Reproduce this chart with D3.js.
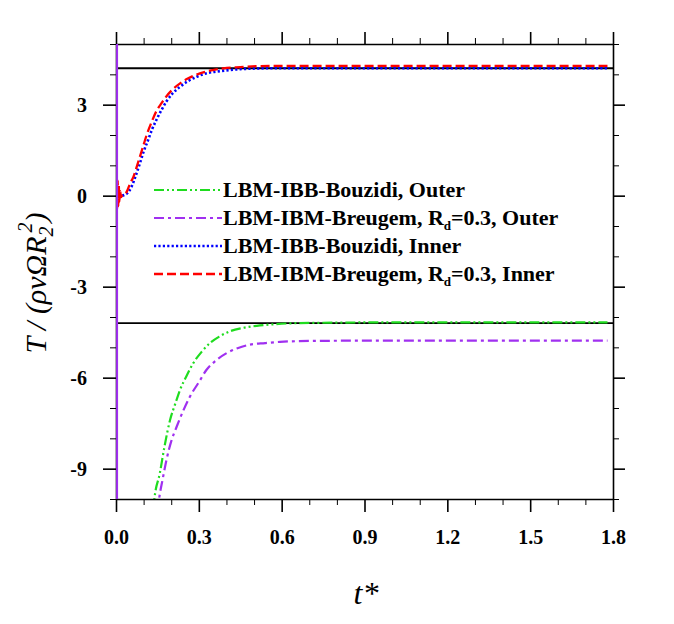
<!DOCTYPE html>
<html>
<head>
<meta charset="utf-8">
<script src="https://cdn.jsdelivr.net/npm/d3@7"></script>
<style>
  html, body { margin: 0; padding: 0; background: #fff; }
  svg { display: block; }
</style>
</head>
<body>
<svg id="chart" width="674" height="624"></svg>
<script>
// ---- data ----
const xTicks = [0.0, 0.3, 0.6, 0.9, 1.2, 1.5, 1.8];
const xTickLabels = ["0.0", "0.3", "0.6", "0.9", "1.2", "1.5", "1.8"];
const yTicks = [3, 0, -3, -6, -9];
const yTickLabels = ["3", "0", "-3", "-6", "-9"];
const refLevels = [4.2, -4.2];

const tInnerBouzidi = [0, 0.003, 0.01, 0.02, 0.03, 0.045, 0.057, 0.07, 0.087, 0.1, 0.117, 0.13, 0.147, 0.165, 0.183, 0.205, 0.232, 0.26, 0.292, 0.33, 0.364, 0.4, 0.449, 0.5, 0.55, 0.65, 0.8, 1.0, 1.3, 1.6, 1.78];
const vInnerBouzidi = [0.05, 0.1, 0.0, 0.0, 0.02, 0.12, 0.31, 0.62, 1.08, 1.45, 1.85, 2.17, 2.51, 2.83, 3.11, 3.37, 3.59, 3.77, 3.92, 4.04, 4.09, 4.13, 4.17, 4.19, 4.2, 4.2, 4.2, 4.2, 4.2, 4.2, 4.2];

const tInnerBreugem = [0, 0.002, 0.004, 0.006, 0.008, 0.010, 0.012, 0.015, 0.018, 0.022, 0.03, 0.04, 0.05, 0.063, 0.075, 0.087, 0.1, 0.111, 0.13, 0.147, 0.165, 0.183, 0.205, 0.232, 0.26, 0.304, 0.34, 0.389, 0.45, 0.51, 0.6, 0.8, 1.0, 1.3, 1.6, 1.78];
const vInnerBreugem = [0, 0.65, -0.45, 0.5, -0.35, 0.35, -0.2, 0.15, -0.05, 0.0, 0.03, 0.15, 0.38, 0.62, 0.95, 1.3, 1.68, 2.0, 2.45, 2.8, 3.05, 3.28, 3.5, 3.7, 3.86, 4.03, 4.12, 4.2, 4.24, 4.27, 4.28, 4.28, 4.28, 4.28, 4.28, 4.28];

const tOuterBouzidi = [0, 0.0005, 0.05, 0.1, 0.125, 0.139, 0.159, 0.175, 0.196, 0.215, 0.232, 0.255, 0.28, 0.31, 0.34, 0.375, 0.413, 0.46, 0.51, 0.57, 0.63, 0.75, 0.9, 1.2, 1.5, 1.78];
const vOuterBouzidi = [-40, -40, -25, -14, -11.5, -10, -9.14, -8.3, -7.39, -6.85, -6.4, -5.95, -5.52, -5.15, -4.86, -4.64, -4.47, -4.36, -4.29, -4.24, -4.21, -4.19, -4.18, -4.18, -4.18, -4.18];

const tOuterBreugem = [0, 0.0005, 0.05, 0.1, 0.14, 0.156, 0.17, 0.183, 0.2, 0.22, 0.243, 0.268, 0.3, 0.328, 0.36, 0.401, 0.44, 0.485, 0.54, 0.594, 0.7, 0.9, 1.2, 1.5, 1.78];
const vOuterBreugem = [60, -60, -30, -16, -11.3, -10, -9.3, -8.7, -8.1, -7.61, -7.1, -6.62, -6.15, -5.74, -5.45, -5.19, -5.03, -4.91, -4.86, -4.82, -4.79, -4.78, -4.78, -4.78, -4.78];

const seriesColors = ["#1fdc1f", "#a030f0", "#0000ff", "#ff0000"];
const seriesDash = ["10,3,2,3,2,3", "10,4,3,4", "2.2,2.2", "9,4"];
const seriesWidth = [2.2, 2.2, 2.6, 2.3];
const legendLabels = [
  ["LBM-IBB-Bouzidi, Outer"],
  ["LBM-IBM-Breugem, R", "d", "=0.3, Outer"],
  ["LBM-IBB-Bouzidi, Inner"],
  ["LBM-IBM-Breugem, R", "d", "=0.3, Inner"]
];

// ---- layout ----
const svg = d3.select("#chart");
const L = 116, R = 613, T = 44, B = 499;
const x = d3.scaleLinear().domain([0, 1.8]).range([L, R]);
const y = d3.scaleLinear().domain([-10, 5]).range([B, T]);

const serif = '"Liberation Serif"';

svg.append("defs").append("clipPath").attr("id", "clip")
  .append("rect").attr("x", L).attr("y", T).attr("width", R - L).attr("height", B - T);

// reference lines
svg.append("g").selectAll("line").data(refLevels).join("line")
  .attr("x1", L).attr("x2", R)
  .attr("y1", d => y(d)).attr("y2", d => y(d))
  .attr("stroke", "#000").attr("stroke-width", 1.8);

// curves
const zipS = (ts, vs) => ts.map((t, i) => [t, vs[i]]);
const seriesData = [
  zipS(tOuterBouzidi, vOuterBouzidi),
  zipS(tOuterBreugem, vOuterBreugem),
  zipS(tInnerBouzidi, vInnerBouzidi),
  zipS(tInnerBreugem, vInnerBreugem)
];
const line = d3.line().x(d => x(d[0])).y(d => y(d[1])).curve(d3.curveMonotoneX);
const gCurves = svg.append("g").attr("clip-path", "url(#clip)");
[2, 3, 0, 1].forEach(i => {
  gCurves.append("path").datum(seriesData[i])
    .attr("d", line)
    .attr("fill", "none")
    .attr("stroke", seriesColors[i])
    .attr("stroke-width", seriesWidth[i])
    .attr("stroke-dasharray", seriesDash[i]);
});

// axes with outward ticks
function styleAxis(g) {
  g.select(".domain").attr("stroke", "#000").attr("stroke-width", 1.6);
  g.selectAll(".tick line").attr("stroke", "#000");
}
const xMinor = d3.range(0, 1.8001, 0.1).map(v => +v.toFixed(2)).filter(v => !xTicks.some(t => Math.abs(t - v) < 1e-6));
const yMinor = d3.range(-10, 5.001, 1).filter(v => !yTicks.includes(v));

function fontTicks(g) {
  g.attr("font-family", null);
  g.selectAll(".tick text")
    .style("font-family", serif).attr("font-weight", "bold").attr("font-size", 20).attr("fill", "#000");
}

// bottom
const gb = svg.append("g").attr("transform", `translate(0,${B})`);
gb.call(d3.axisBottom(x).tickValues(xTicks).tickSize(13).tickSizeOuter(0).tickFormat((d, i) => xTickLabels[i]));
styleAxis(gb);
gb.selectAll(".tick line").attr("stroke-width", 1.6);
fontTicks(gb);
gb.selectAll(".tick text").attr("y", 31).attr("dy", "0.71em");
const gbm = svg.append("g").attr("transform", `translate(0,${B})`);
gbm.call(d3.axisBottom(x).tickValues(xMinor).tickSize(6).tickSizeOuter(0).tickFormat(""));
gbm.select(".domain").remove();
gbm.selectAll(".tick line").attr("stroke", "#000").attr("stroke-width", 1);

// top
const gt = svg.append("g").attr("transform", `translate(0,${T})`);
gt.call(d3.axisTop(x).tickValues(xTicks).tickSize(12).tickSizeOuter(0).tickFormat(""));
styleAxis(gt);
gt.selectAll(".tick line").attr("stroke-width", 1.6);
const gtm = svg.append("g").attr("transform", `translate(0,${T})`);
gtm.call(d3.axisTop(x).tickValues(xMinor).tickSize(6).tickSizeOuter(0).tickFormat(""));
gtm.select(".domain").remove();
gtm.selectAll(".tick line").attr("stroke", "#000").attr("stroke-width", 1);

// left
const gl = svg.append("g").attr("transform", `translate(${L},0)`);
gl.call(d3.axisLeft(y).tickValues(yTicks).tickSize(13).tickSizeOuter(0).tickFormat((d, i) => yTickLabels[i]));
styleAxis(gl);
gl.selectAll(".tick line").attr("stroke-width", 1.6);
fontTicks(gl);
gl.selectAll(".tick text").attr("x", -29);
const glm = svg.append("g").attr("transform", `translate(${L},0)`);
glm.call(d3.axisLeft(y).tickValues(yMinor).tickSize(6).tickSizeOuter(0).tickFormat(""));
glm.select(".domain").remove();
glm.selectAll(".tick line").attr("stroke", "#000").attr("stroke-width", 1);

// right
const gr = svg.append("g").attr("transform", `translate(${R},0)`);
gr.call(d3.axisRight(y).tickValues(yTicks).tickSize(12).tickSizeOuter(0).tickFormat(""));
styleAxis(gr);
gr.selectAll(".tick line").attr("stroke-width", 1.6);
const grm = svg.append("g").attr("transform", `translate(${R},0)`);
grm.call(d3.axisRight(y).tickValues(yMinor).tickSize(6).tickSizeOuter(0).tickFormat(""));
grm.select(".domain").remove();
grm.selectAll(".tick line").attr("stroke", "#000").attr("stroke-width", 1);

// purple spike on top of the left axis at t = 0
svg.append("g").attr("clip-path", "url(#clip)").append("path").datum(seriesData[1].slice(0, 3))
  .attr("d", d3.line().x(d => x(d[0]) + 1).y(d => y(d[1])))
  .attr("fill", "none").attr("stroke", seriesColors[1]).attr("stroke-width", 2);

// legend
const legendRowY = [190, 218, 246, 274];
const lg = svg.append("g");
legendLabels.forEach((parts, i) => {
  const yy = legendRowY[i];
  lg.append("line").attr("x1", 154).attr("x2", 222).attr("y1", yy).attr("y2", yy)
    .attr("stroke", seriesColors[i]).attr("stroke-width", seriesWidth[i])
    .attr("stroke-dasharray", seriesDash[i]);
  const tx = lg.append("text").attr("x", 223).attr("y", yy + 7)
    .style("font-family", serif).attr("font-weight", "bold").attr("font-size", 22).attr("fill", "#000");
  if (parts.length === 1) {
    tx.text(parts[0]);
  } else {
    tx.append("tspan").text(parts[0]);
    tx.append("tspan").attr("font-size", 13).attr("dy", 5).text(parts[1]);
    tx.append("tspan").attr("dy", -5).text(parts[2]);
  }
});

// axis titles
svg.append("text").attr("x", 366).attr("y", 604).attr("text-anchor", "middle")
  .style("font-family", serif).attr("font-style", "italic").attr("font-size", 32).attr("fill", "#000")
  .text("t*");

const yl = svg.append("text")
  .attr("transform", "translate(46,283) rotate(-90)")
  .attr("text-anchor", "middle")
  .style("font-family", serif).attr("font-style", "italic").attr("font-size", 30).attr("fill", "#000");
yl.append("tspan").text("T / (ρνΩR");
yl.append("tspan").attr("font-size", 20).attr("dy", 7).text("2");
yl.append("tspan").attr("font-size", 20).attr("dx", -6).attr("dy", -21).text("2");
yl.append("tspan").attr("dy", 14).text(")");
</script>
</body>
</html>
